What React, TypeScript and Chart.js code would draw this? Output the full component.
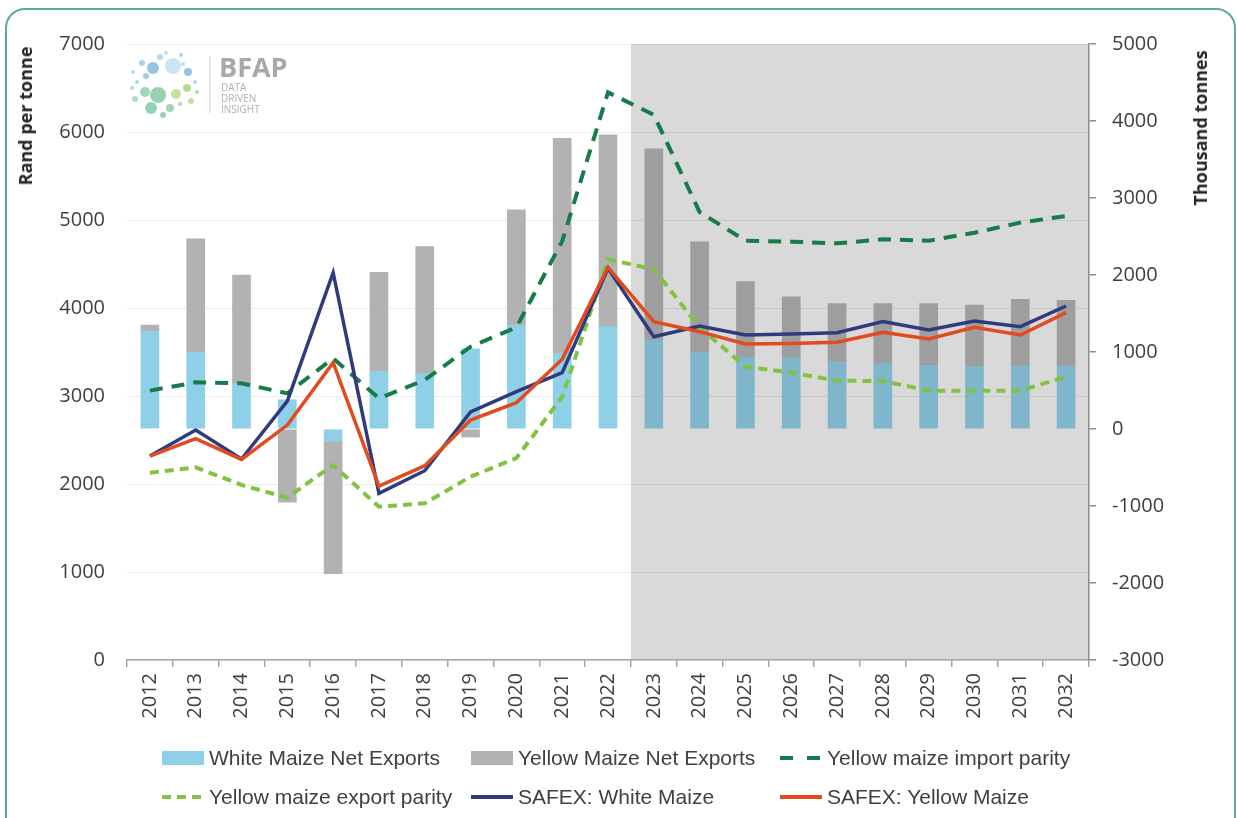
import React, { useEffect, useRef } from "react";
import { Chart, registerables } from "chart.js";

Chart.register(...registerables);

// ---------- data ----------
const years = [
  "2012", "2013", "2014", "2015", "2016", "2017", "2018", "2019", "2020", "2021", "2022",
  "2023", "2024", "2025", "2026", "2027", "2028", "2029", "2030", "2031", "2032",
];
const forecastStart = "2023";

// Thousand tonnes (right axis, stacked bars)
const whiteNetExports = [1270, 1000, 590, 380, -160, 750, 720, 1040, 1345, 980, 1330, 1155, 1000, 935, 925, 875, 850, 825, 810, 820, 820];
const yellowNetExports = [80, 1470, 1410, -950, -1720, 1285, 1650, -105, 1500, 2795, 2490, 2485, 1430, 980, 790, 755, 780, 805, 800, 865, 850];

// Rand per tonne (left axis, lines)
const importParity = [3061, 3155, 3144, 3030, 3428, 2973, 3182, 3560, 3780, 4760, 6450, 6195, 5090, 4765, 4754, 4735, 4780, 4765, 4856, 4970, 5045];
const exportParity = [2129, 2189, 1989, 1845, 2216, 1742, 1780, 2083, 2295, 2990, 4553, 4440, 3780, 3333, 3265, 3174, 3170, 3061, 3061, 3061, 3220];
const safexWhite = [2318, 2614, 2284, 2943, 4401, 1894, 2151, 2818, 3049, 3265, 4450, 3674, 3795, 3693, 3705, 3720, 3845, 3750, 3852, 3788, 4023];
const safexYellow = [2318, 2515, 2280, 2670, 3378, 1977, 2208, 2727, 2924, 3417, 4462, 3845, 3731, 3591, 3598, 3610, 3724, 3648, 3780, 3693, 3947];

const leftMin = 0;
const leftMax = 7000;
const rightMin = -3000;
const rightMax = 5000;
const tickStep = 1000;

const leftTitle = "Rand per tonne";
const rightTitle = "Thousand tonnes";

// ---------- styles ----------
const C = {
  white: "#8dd0e7",
  whiteShaded: "#7fb6cb",
  yellow: "#b2b2b2",
  yellowShaded: "#9e9e9e",
  shade: "#d9d9d9",
  importParity: "#177c4a",
  exportParity: "#80c341",
  safexWhite: "#2f3b7c",
  safexYellow: "#e24a1f",
  text: "#404040",
};
const tickFont = { family: "'Open Sans', sans-serif", size: 20 };

const fIdx = years.indexOf(forecastStart);
const whiteColors = years.map((_, i) => (i >= fIdx ? C.whiteShaded : C.white));
const yellowColors = years.map((_, i) => (i >= fIdx ? C.yellowShaded : C.yellow));

const shadePlugin = {
  id: "forecastShade",
  beforeDraw(chart: any) {
    const { ctx, chartArea, scales } = chart;
    const x = scales.x;
    const left = (x.getPixelForValue(fIdx - 1) + x.getPixelForValue(fIdx)) / 2;
    ctx.save();
    ctx.fillStyle = C.shade;
    ctx.fillRect(left, chartArea.top, chartArea.right - left, chartArea.bottom - chartArea.top);
    ctx.restore();
  },
};

const legendItems = [
  { label: "White Maize Net Exports", kind: "box", color: C.white, left: 162, row: 0 },
  { label: "Yellow Maize Net Exports", kind: "box", color: C.yellow, left: 471, row: 0 },
  { label: "Yellow maize import parity", kind: "dash", dash: "13 14", color: C.importParity, left: 780, row: 0 },
  { label: "Yellow maize export parity", kind: "dash", dash: "9 6", color: C.exportParity, left: 162, row: 1 },
  { label: "SAFEX: White Maize", kind: "line", color: C.safexWhite, left: 471, row: 1 },
  { label: "SAFEX: Yellow Maize", kind: "line", color: C.safexYellow, left: 780, row: 1 },
];

function Logo() {
  const circles = [
    [173, 66, 8, "#c2dfee"], [153, 68, 6, "#7fbddc"], [142, 63, 3, "#9ccbe3"], [160, 57, 3, "#a9d2e8"],
    [181, 55, 2, "#9ccbe3"], [188, 72, 4, "#86b9dc"], [133, 72, 2, "#a9d2e8"], [166, 53, 2, "#b6d8ea"],
    [146, 76, 3, "#8fc4e0"], [137, 82, 2, "#9fd0c2"], [195, 82, 2, "#a9d2e8"], [183, 64, 2, "#b6d8ea"],
    [158, 95, 8, "#86c9a7"], [145, 92, 5, "#8fcfae"], [176, 94, 5, "#b7dc8a"], [187, 88, 4, "#a9d67a"],
    [151, 108, 6, "#7ccaa8"], [170, 108, 4, "#8fcfae"], [135, 99, 3, "#9fd6bb"], [191, 101, 3, "#b7dc8a"],
    [197, 92, 2, "#a9d67a"], [163, 115, 3, "#86c9a7"], [180, 104, 2, "#a0d2a0"], [132, 88, 2, "#9fd6bb"],
  ] as const;
  return (
    <svg width="300" height="100" style={{ position: "absolute", left: 120, top: 40 }} viewBox="120 40 300 100">
      {circles.map(([cx, cy, r, c], i) => (
        <circle key={i} cx={cx} cy={cy} r={r} fill={c} opacity={0.85} />
      ))}
      <line x1="210" y1="56" x2="210" y2="113" stroke="#d0d0d0" strokeWidth="1" />
      <text x="219" y="77" fontFamily="'Open Sans', sans-serif" fontWeight="700" fontSize="27" fill="#a8a8a8">BFAP</text>
      <text x="221" y="91" fontFamily="'Open Sans', sans-serif" fontSize="10" fill="#b0b0b0">DATA</text>
      <text x="221" y="102" fontFamily="'Open Sans', sans-serif" fontSize="10" fill="#b0b0b0">DRIVEN</text>
      <text x="221" y="113" fontFamily="'Open Sans', sans-serif" fontSize="10" fill="#b0b0b0">INSIGHT</text>
    </svg>
  );
}

export default function App() {
  const ref = useRef<HTMLCanvasElement | null>(null);

  useEffect(() => {
    if (!ref.current) return;
    const plainTick = (v: any) => String(v);
    const chart = new Chart(ref.current, {
      type: "bar",
      data: {
        labels: years,
        datasets: [
          {
            type: "line",
            label: "SAFEX: Yellow Maize",
            data: safexYellow,
            yAxisID: "y",
            borderColor: C.safexYellow,
            borderWidth: 3.5,
            pointRadius: 0,
            fill: false,
            tension: 0,
            order: 1,
          },
          {
            type: "line",
            label: "SAFEX: White Maize",
            data: safexWhite,
            yAxisID: "y",
            borderColor: C.safexWhite,
            borderWidth: 3.5,
            pointRadius: 0,
            fill: false,
            tension: 0,
            order: 2,
          },
          {
            type: "line",
            label: "Yellow maize export parity",
            data: exportParity,
            yAxisID: "y",
            borderColor: C.exportParity,
            borderWidth: 4,
            borderDash: [9, 6],
            pointRadius: 0,
            fill: false,
            tension: 0,
            order: 3,
          },
          {
            type: "line",
            label: "Yellow maize import parity",
            data: importParity,
            yAxisID: "y",
            borderColor: C.importParity,
            borderWidth: 4,
            borderDash: [13, 9],
            pointRadius: 0,
            fill: false,
            tension: 0,
            order: 4,
          },
          {
            type: "bar",
            label: "White Maize Net Exports",
            data: whiteNetExports,
            yAxisID: "y1",
            backgroundColor: whiteColors,
            barThickness: 18,
            stack: "net",
            order: 10,
          },
          {
            type: "bar",
            label: "Yellow Maize Net Exports",
            data: yellowNetExports,
            yAxisID: "y1",
            backgroundColor: yellowColors,
            barThickness: 18,
            stack: "net",
            order: 11,
          },
        ] as any,
      },
      options: {
        animation: false,
        responsive: false,
        events: [],
        layout: { padding: { top: 44, left: 0, right: 0, bottom: 0 } },
        plugins: { legend: { display: false }, tooltip: { enabled: false } },
        scales: {
          x: {
            stacked: true,
            offset: true,
            grid: { offset: true, drawOnChartArea: false, drawTicks: true, tickLength: 7, color: "#a6a6a6", lineWidth: 1.5 },
            border: { display: true, color: "#a6a6a6", width: 1.5 },
            ticks: { minRotation: 90, maxRotation: 90, autoSkip: false, padding: 6, color: C.text, font: tickFont },
            afterFit: (s: any) => {
              s.height = 158;
            },
          },
          y: {
            position: "left",
            min: leftMin,
            max: leftMax,
            ticks: { stepSize: tickStep, padding: 22, color: C.text, font: tickFont, callback: plainTick },
            grid: { color: "rgba(0,0,0,0.075)", drawTicks: false, lineWidth: 1 },
            border: { display: false },
            afterFit: (s: any) => {
              s.width = 127;
            },
          },
          y1: {
            position: "right",
            min: rightMin,
            max: rightMax,
            stacked: true,
            ticks: { stepSize: tickStep, padding: 16, color: C.text, font: tickFont, callback: plainTick },
            grid: { drawOnChartArea: false, drawTicks: true, tickLength: 7, color: "#8c8c8c", lineWidth: 1.5 },
            border: { display: true, color: "#8c8c8c", width: 1.5 },
            afterFit: (s: any) => {
              s.width = 148;
            },
          },
        },
      } as any,
      plugins: [shadePlugin],
    });
    return () => chart.destroy();
  }, []);

  const rowY = [758, 797];

  return (
    <div
      style={{
        position: "fixed",
        left: 0,
        top: 0,
        width: 1237,
        height: 818,
        overflow: "hidden",
        background: "#ffffff",
      }}
    >
      <div
        style={{
          position: "absolute",
          left: 5,
          top: 8,
          width: 1231,
          height: 860,
          border: "2px solid #5aaaa2",
          borderRadius: 20,
          boxSizing: "border-box",
        }}
      />
      <canvas ref={ref} width={1237} height={818} style={{ position: "absolute", left: 0, top: 0, width: 1237, height: 818 }} />
      <Logo />
      <div
        style={{
          position: "absolute",
          left: 25,
          top: 116,
          transform: "translate(-50%, -50%) rotate(-90deg)",
          fontFamily: "'Open Sans', sans-serif",
          fontWeight: 700,
          fontSize: 18,
          color: "#262626",
          whiteSpace: "nowrap",
        }}
      >
        {leftTitle}
      </div>
      <div
        style={{
          position: "absolute",
          left: 1200,
          top: 128,
          transform: "translate(-50%, -50%) rotate(-90deg)",
          fontFamily: "'Open Sans', sans-serif",
          fontWeight: 700,
          fontSize: 18,
          color: "#262626",
          whiteSpace: "nowrap",
        }}
      >
        {rightTitle}
      </div>
      {legendItems.map((it, i) => (
        <div
          key={i}
          style={{
            position: "absolute",
            left: it.left,
            top: rowY[it.row] - 13,
            height: 26,
            display: "flex",
            alignItems: "center",
            whiteSpace: "nowrap",
            fontFamily: "'Liberation Sans', Arial, sans-serif",
            fontSize: 21,
            color: C.text,
          }}
        >
          <svg width="42" height="16" style={{ marginRight: 5, flex: "none" }}>
            {it.kind === "box" ? (
              <rect x="0" y="1" width="42" height="14" fill={it.color} />
            ) : (
              <line
                x1="0"
                y1="8"
                x2="42"
                y2="8"
                stroke={it.color}
                strokeWidth="4"
                strokeDasharray={it.kind === "dash" ? (it as any).dash : undefined}
              />
            )}
          </svg>
          <span>{it.label}</span>
        </div>
      ))}
    </div>
  );
}
